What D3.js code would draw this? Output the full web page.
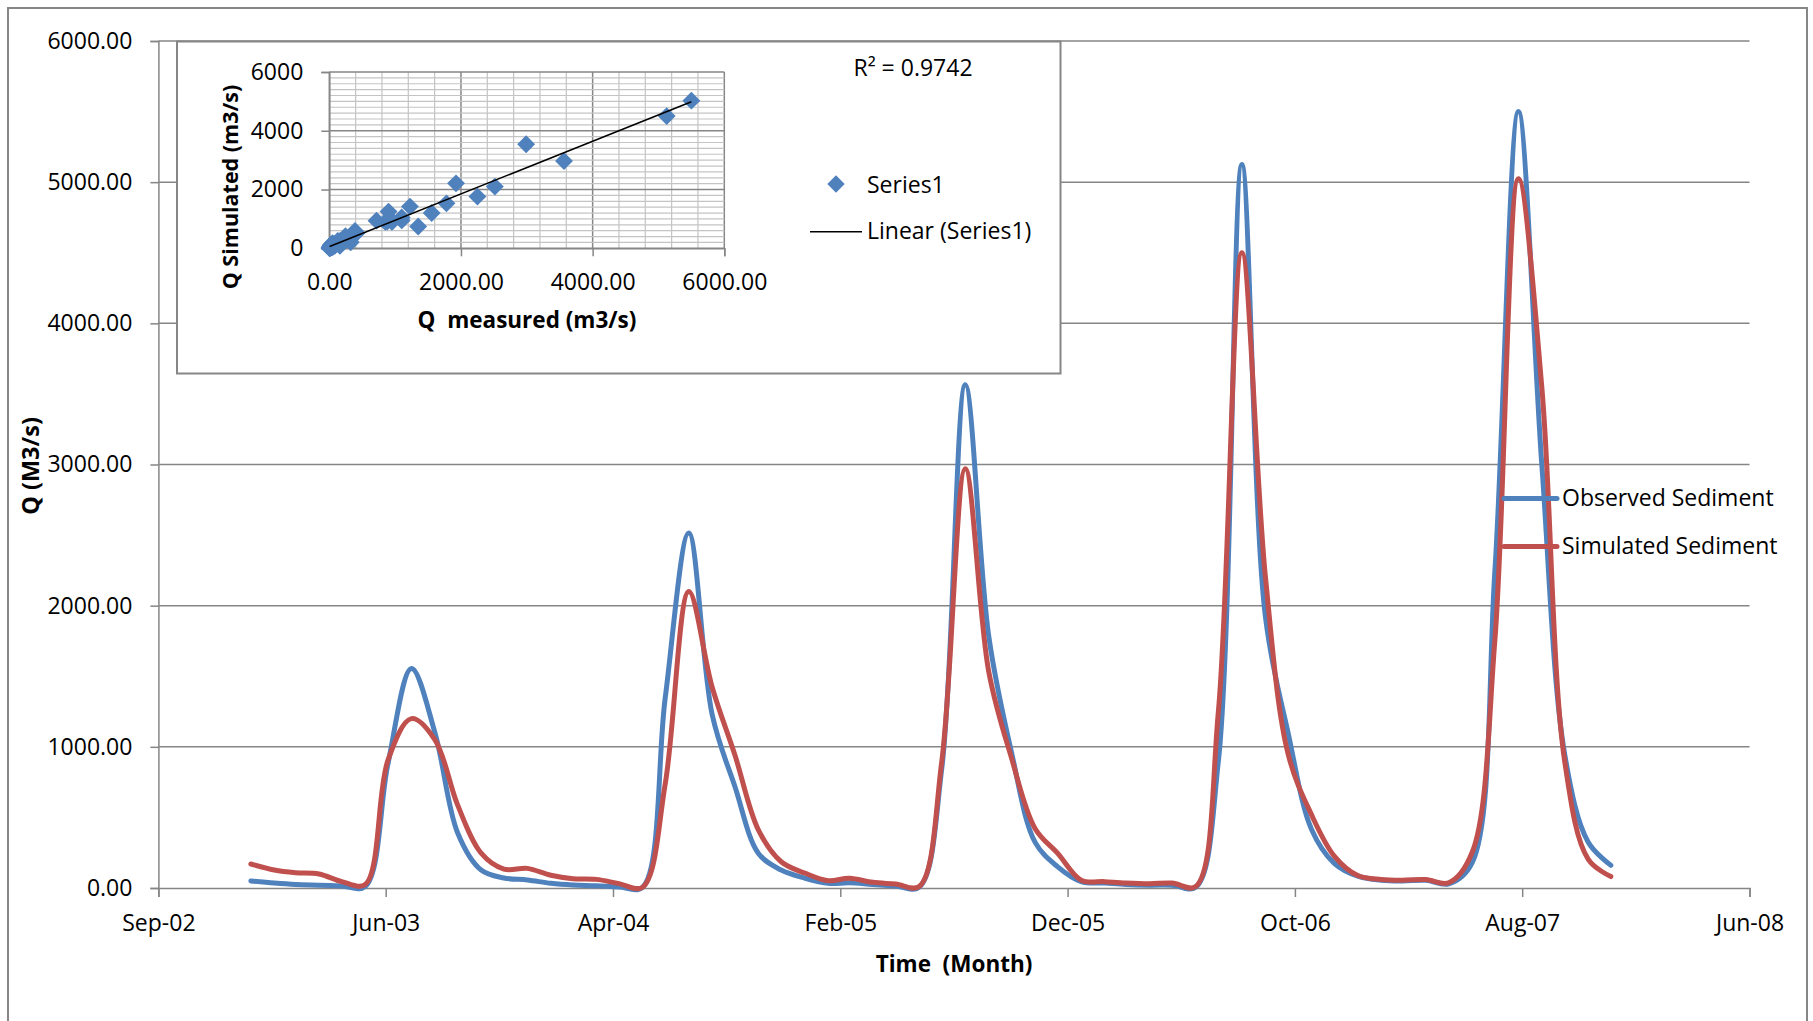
<!DOCTYPE html>
<html>
<head>
<meta charset="utf-8">
<script src="https://cdn.jsdelivr.net/npm/d3@7"></script>
<style>
  body { margin: 0; background: #fff; }
  svg text { font-family: "Open Sans", sans-serif; fill: #000; }
</style>
</head>
<body>
<div id="chart"></div>
<script>

// monthly values, Jan 2003 .. Dec 2007 (one row per year)
let observed = [
    50, 35, 25, 20, 15, 10, 880, 1555, 1100, 390, 127, 71,
    57, 33, 21, 16, 7, 5, 1350, 2515, 1225, 717, 245, 127,
    70, 33, 37, 25, 15, 5, 850, 3565, 1780, 960, 325, 150,
    45, 35, 25, 20, 20, 5, 900, 5125, 1925, 1100, 415, 175,
    84, 55, 50, 55, 30, 180, 2250, 5500, 2990, 950, 326, 161
];
let simulated = [
    170, 127, 108, 99, 45, 25, 906, 1200, 1050, 587, 247, 134,
    139, 90, 66, 61, 31, 5, 740, 2100, 1420, 940, 410, 186,
    106, 52, 69, 40, 28, 10, 900, 2970, 1530, 920, 422, 245,
    55, 45, 35, 30, 35, 10, 1250, 4500, 2210, 950, 518, 226,
    88, 60, 55, 60, 37, 253, 1760, 5025, 3540, 900, 205, 81
];
let months = d3.utcMonth.range(new Date(Date.UTC(2003, 0, 1)), new Date(Date.UTC(2008, 0, 1)));

let seriesNames = ["Observed Sediment", "Simulated Sediment"];
let seriesColours = ["#4F81BD", "#C0504D"];

let yTicks = [0, 1000, 2000, 3000, 4000, 5000, 6000];
let xTickLabels = ["Sep-02", "Jun-03", "Apr-04", "Feb-05", "Dec-05", "Oct-06", "Aug-07", "Jun-08"];
let insetTicks = [0, 2000, 4000, 6000];
let rSquaredText = "R² = 0.9742";

// excel date axis: major unit of 300 days from 1 Sep 2002
let xStart = new Date(Date.UTC(2002, 8, 1));
let xTicks = xTickLabels.map(function (d, i) { return d3.utcDay.offset(xStart, i * 300); });

let grey = "#868686";

let svg = d3.select("#chart").append("svg")
    .attr("width", 1813)
    .attr("height", 1021);

// chart area border (runs off the bottom of the picture)
svg.append("rect")
    .attr("x", 8).attr("y", 8)
    .attr("width", 1799).attr("height", 1040)
    .attr("fill", "none")
    .attr("stroke", grey)
    .attr("stroke-width", 2);

let x = d3.scaleUtc().domain([xTicks[0], xTicks[xTicks.length - 1]]).range([158.4, 1749.5]);
let y = d3.scaleLinear().domain([0, 6000]).range([888, 41]);

// gridlines
svg.append("g").selectAll("line")
    .data(yTicks.slice(1))
    .join("line")
    .attr("x1", x.range()[0])
    .attr("x2", x.range()[1])
    .attr("y1", function (d) { return y(d); })
    .attr("y2", function (d) { return y(d); })
    .attr("stroke", grey)
    .attr("stroke-width", 1.5);

let xAxis = svg.append("g")
    .attr("transform", "translate(0,888)")
    .call(d3.axisBottom(x).tickValues(xTicks).tickSize(9).tickFormat(function (d, i) { return xTickLabels[i]; }))
    .attr("font-family", null).attr("font-size", null);
xAxis.select(".domain").attr("stroke", grey).attr("stroke-width", 1.5);
xAxis.selectAll(".tick line").attr("stroke", grey).attr("stroke-width", 1.5);
xAxis.selectAll(".tick text")
    .attr("y", 43).attr("dy", null)
    .style("font-size", "23px");

let yAxis = svg.append("g")
    .attr("transform", "translate(158.4,0)")
    .call(d3.axisLeft(y).tickValues(yTicks).tickSize(8).tickPadding(18).tickFormat(d3.format(".2f")))
    .attr("font-family", null).attr("font-size", null);
yAxis.select(".domain").attr("stroke", grey).attr("stroke-width", 1.5);
yAxis.selectAll(".tick line").attr("stroke", grey).attr("stroke-width", 1.5);
yAxis.selectAll(".tick text").style("font-size", "23px");

// axis titles
svg.append("text")
    .attr("x", 954).attr("y", 972)
    .attr("text-anchor", "middle")
    .style("font-size", "22.5px").style("font-weight", "bold").style("white-space", "pre")
    .text("Time  (Month)");

svg.append("text")
    .attr("transform", "translate(39,466) rotate(-90)")
    .attr("text-anchor", "middle")
    .style("font-size", "23.5px").style("font-weight", "bold")
    .text("Q (M3/s)");

// smoothed lines like excel
let line = d3.line()
    .x(function (d, i) { return x(months[i]); })
    .y(function (d) { return y(d); })
    .curve(d3.curveCatmullRom.alpha(0.5));

[observed, simulated].forEach(function (values, k) {
    svg.append("path")
        .datum(values)
        .attr("d", line)
        .attr("fill", "none")
        .attr("stroke", seriesColours[k])
        .attr("stroke-width", 5)
        .attr("stroke-linejoin", "round")
        .attr("stroke-linecap", "round");
});

// legend
let legend = svg.append("g").selectAll("g")
    .data(seriesNames)
    .join("g")
    .attr("transform", function (d, i) { return "translate(0," + (498.5 + i * 48) + ")"; });
legend.append("line")
    .attr("x1", 1504).attr("x2", 1557)
    .attr("stroke", function (d, i) { return seriesColours[i]; })
    .attr("stroke-width", 5)
    .attr("stroke-linecap", "round");
legend.append("text")
    .attr("x", 1562).attr("y", 7)
    .style("font-size", "23px")
    .text(function (d) { return d; });

// ---- inset scatter: measured vs simulated ----
svg.append("rect")
    .attr("x", 177).attr("y", 41.5)
    .attr("width", 883.5).attr("height", 332)
    .attr("fill", "#fff")
    .attr("stroke", grey)
    .attr("stroke-width", 2);

let ix = d3.scaleLinear().domain([0, 6000]).range([329.3, 724.3]);
let iy = d3.scaleLinear().domain([0, 6000]).range([248.3, 72]);

let inset = svg.append("g");

// minor + major grid
inset.append("g").selectAll("line")
    .data(d3.range(0, 6001, 400))
    .join("line")
    .attr("x1", function (d) { return ix(d); }).attr("x2", function (d) { return ix(d); })
    .attr("y1", iy(0)).attr("y2", iy(6000))
    .attr("stroke", function (d) { return d % 2000 === 0 ? grey : "#c4c4c4"; })
    .attr("stroke-width", function (d) { return d % 2000 === 0 ? 1.5 : 1.2; });
inset.append("g").selectAll("line")
    .data(d3.range(0, 6001, 200))
    .join("line")
    .attr("x1", ix(0)).attr("x2", ix(6000))
    .attr("y1", function (d) { return iy(d); }).attr("y2", function (d) { return iy(d); })
    .attr("stroke", function (d) { return d % 2000 === 0 ? grey : "#c4c4c4"; })
    .attr("stroke-width", function (d) { return d % 2000 === 0 ? 1.5 : 1.2; });

let ixAxis = inset.append("g")
    .attr("transform", "translate(0," + iy(0) + ")")
    .call(d3.axisBottom(ix).tickValues(insetTicks).tickSize(8).tickFormat(d3.format(".2f")))
    .attr("font-family", null).attr("font-size", null);
ixAxis.select(".domain").attr("stroke", grey).attr("stroke-width", 1.5);
ixAxis.selectAll(".tick line").attr("stroke", grey).attr("stroke-width", 1.5);
ixAxis.selectAll(".tick text").attr("y", 42).attr("dy", null).style("font-size", "23px");

let iyAxis = inset.append("g")
    .attr("transform", "translate(" + ix(0) + ",0)")
    .call(d3.axisLeft(iy).tickValues(insetTicks).tickSize(8).tickPadding(18).tickFormat(d3.format("d")))
    .attr("font-family", null).attr("font-size", null);
iyAxis.select(".domain").attr("stroke", grey).attr("stroke-width", 1.5);
iyAxis.selectAll(".tick line").attr("stroke", grey).attr("stroke-width", 1.5);
iyAxis.selectAll(".tick text").style("font-size", "23px");

inset.append("text")
    .attr("x", 527).attr("y", 328)
    .attr("text-anchor", "middle")
    .style("font-size", "22.5px").style("font-weight", "bold").style("white-space", "pre")
    .text("Q  measured (m3/s)");

inset.append("text")
    .attr("transform", "translate(238,187) rotate(-90)")
    .attr("text-anchor", "middle")
    .style("font-size", "21.5px").style("font-weight", "bold")
    .text("Q Simulated (m3/s)");

let pairs = d3.zip(observed, simulated);
let diamond = d3.symbol(d3.symbolSquare, 160);

inset.append("g").selectAll("path")
    .data(pairs)
    .join("path")
    .attr("transform", function (d) { return "translate(" + ix(d[0]) + "," + iy(d[1]) + ") rotate(45)"; })
    .attr("d", diamond)
    .attr("fill", seriesColours[0]);

// least squares trendline
let mx = d3.mean(observed), my = d3.mean(simulated);
let slope = d3.sum(pairs, function (d) { return (d[0] - mx) * (d[1] - my); }) /
    d3.sum(pairs, function (d) { return (d[0] - mx) * (d[0] - mx); });
let intercept = my - slope * mx;
let xMin = d3.min(observed), xMax = d3.max(observed);

inset.append("line")
    .attr("x1", ix(xMin)).attr("y1", iy(intercept + slope * xMin))
    .attr("x2", ix(xMax)).attr("y2", iy(intercept + slope * xMax))
    .attr("stroke", "#000")
    .attr("stroke-width", 1.5);

inset.append("text")
    .attr("x", 913).attr("y", 76)
    .attr("text-anchor", "middle")
    .style("font-size", "23px")
    .text(rSquaredText);

// inset legend
inset.append("path")
    .attr("transform", "translate(836,184) rotate(45)")
    .attr("d", d3.symbol(d3.symbolSquare, 150))
    .attr("fill", seriesColours[0]);
inset.append("text")
    .attr("x", 867).attr("y", 192.5)
    .style("font-size", "23px")
    .text("Series1");
inset.append("line")
    .attr("x1", 810).attr("x2", 862)
    .attr("y1", 231.7).attr("y2", 231.7)
    .attr("stroke", "#000")
    .attr("stroke-width", 1.5);
inset.append("text")
    .attr("x", 867).attr("y", 239)
    .style("font-size", "23px")
    .text("Linear (Series1)");

</script>
</body>
</html>
